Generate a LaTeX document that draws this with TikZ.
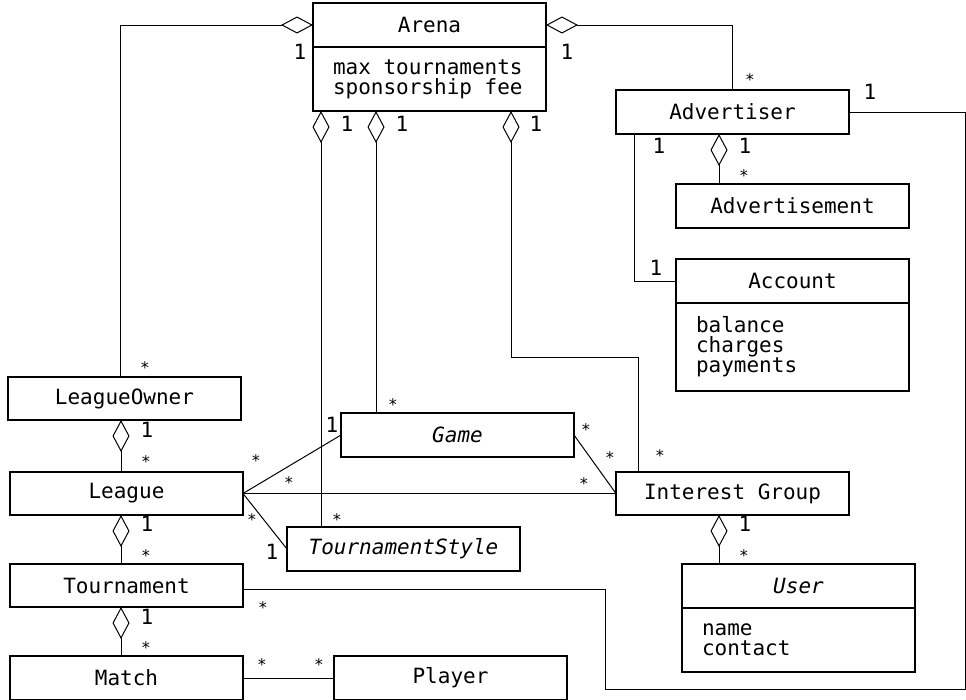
\documentclass[tikz,border=0pt]{standalone}
\usepackage{fontspec}
\newfontfamily\umlfont[WordSpace={1,0,0}]{DejaVu Sans Mono}
\usetikzlibrary{arrows.meta,positioning,calc}

\begin{document}
\begin{tikzpicture}[
  x=1pt, y=-1pt,
  font=\umlfont\fontsize{21}{20}\selectfont,
  line width=1pt,
  cls/.style={draw, line width=1.3pt, minimum width=233pt, minimum height=43pt,
    inner sep=0pt, outer sep=0pt},
  abst/.style={cls, font=\umlfont\itshape\fontsize{21}{20}\selectfont},
  att/.style={draw, line width=1.3pt, align=left, text width=193pt,
    inner xsep=20pt, inner ysep=0pt, outer sep=0pt,
    execute at begin node={\spaceskip=12.64pt\relax}},
  agg/.style={{Diamond[open, length=32pt, width=17pt]}-},
  mult/.style={anchor=base, inner sep=0pt},
  many/.style={mult, yshift=2.8pt, font=\umlfont\fontsize{16}{16}\selectfont}
]
\useasboundingbox (0,0) rectangle (966,699);

% --- classes with attribute compartments ---
\node[cls, minimum height=44pt] (arena) at (429.5,25) {Arena};
\node[att, minimum height=64pt, below=0pt of arena] (arenaatt)
  {max tournaments\\sponsorship fee};
\node[cls, minimum height=44pt] (account) at (792.5,281) {Account};
\node[att, minimum height=88pt, below=0pt of account] (accountatt)
  {balance\\charges\\payments};
\node[abst, minimum height=44pt] (user) at (798.5,586) {User};
\node[att, minimum height=64pt, below=0pt of user] (useratt) {name\\contact};

% --- plain classes ---
\node[cls, minimum height=44pt] (advertiser) at (732.5,112) {Advertiser};
\node[cls, minimum height=44pt] (advert) at (792.5,206) {Advertisement};
\node[abst, minimum height=44pt] (game) at (457.5,435) {Game};
\node[cls] (igroup) at (732.5,493.5) {Interest Group};
\node[abst, minimum height=44pt] (style) at (403.5,549) {TournamentStyle};
\node[cls, minimum height=44pt] (player) at (450.5,678) {Player};

% --- left stack ---
\node[cls] (league) at (126.5,493.5) {League};
\node[cls, above=52pt of league, xshift=-2pt] (owner) {LeagueOwner};
\node[cls, below=49pt of league] (tourn) {Tournament};
\node[cls, minimum height=44pt, below=49pt of tourn] (match) {Match};

% --- aggregations out of Arena ---
\coordinate (a1) at ([xshift=8pt]arenaatt.south west);
\coordinate (a2) at ([xshift=63pt]arenaatt.south west);
\coordinate (a3) at ([xshift=-35pt]arenaatt.south east);
\draw[agg] (arena.west) -| ([xshift=-4.5pt]owner.north);
\draw[agg] (arena.east) -| (advertiser.north);
\draw[agg] (a1) -- (a1 |- style.north);
\draw[agg] (a2) -- (a2 |- game.north);
\draw[agg] (a3) -- ++(0,246) -| ([xshift=-94.5pt]igroup.north);

% --- Advertiser side ---
\draw[agg] ([xshift=-13.5pt]advertiser.south) -- ([xshift=-73.5pt]advert.north);
\draw ([xshift=-98.5pt]advertiser.south) |- (account.west);
\draw (advertiser.east) -| (965,689) -| (605,589) -- ([yshift=-3.5pt]tourn.east);
\draw[agg] ([xshift=-13.5pt]igroup.south) -- ([xshift=-79.5pt]user.north);

% --- left stack aggregations ---
\draw[agg] ([xshift=-3.5pt]owner.south) -- ([xshift=-5.5pt]league.north);
\draw[agg] ([xshift=-5.5pt]league.south) -- ([xshift=-5.5pt]tourn.north);
\draw[agg] ([xshift=-5.5pt]tourn.south) -- ([xshift=-5.5pt]match.north);

% --- plain associations ---
\draw (league.east) -- (game.west);
\draw (league.east) -- (igroup.west);
\draw (league.east) -- (style.west);
\draw (game.east) -- (igroup.west);
\draw (match.east) -- (player.west);

% --- multiplicities ---
\node[mult] (m1) at (300,59.5) {1};
\node[many] (m2) at (145,376) {*};
\node[mult] (m3) at (567,59.5) {1};
\node[many] (m4) at (750,88) {*};
\node[mult] (m5) at (347,131.5) {1};
\node[many] (m6) at (337,528) {*};
\node[mult] (m7) at (402,131.5) {1};
\node[many] (m8) at (393,413) {*};
\node[mult] (m9) at (536,131.5) {1};
\node[many] (m10) at (660,464) {*};
\node[mult] (m11) at (745,153.5) {1};
\node[many] (m12) at (744,184) {*};
\node[mult] (m13) at (659,153.5) {1};
\node[mult] (m14) at (656,275.5) {1};
\node[mult] (m15) at (870,99.5) {1};
\node[many] (m16) at (263,616) {*};
\node[mult] (m17) at (745,531.5) {1};
\node[many] (m18) at (744,564) {*};
\node[mult] (m19) at (147,437.5) {1};
\node[many] (m20) at (146,470) {*};
\node[mult] (m21) at (147,531.5) {1};
\node[many] (m22) at (146,564) {*};
\node[mult] (m23) at (147,624.5) {1};
\node[many] (m24) at (146,656) {*};
\node[many] (m25) at (256,469) {*};
\node[mult] (m26) at (332,432.5) {1};
\node[many] (m27) at (289,491) {*};
\node[many] (m28) at (584,492) {*};
\node[many] (m29) at (252,528) {*};
\node[mult] (m30) at (272,559.5) {1};
\node[many] (m31) at (586,438) {*};
\node[many] (m32) at (610,466) {*};
\node[many] (m33) at (262,673) {*};
\node[many] (m34) at (319,673) {*};
\end{tikzpicture}
\end{document}
